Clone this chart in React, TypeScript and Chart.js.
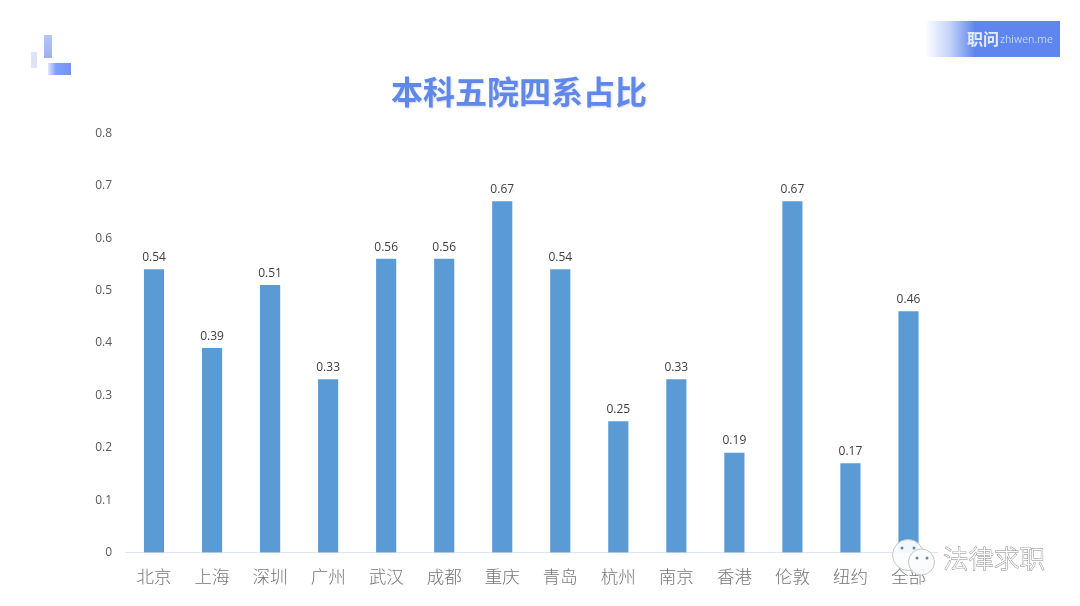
import React, { useEffect, useRef } from "react";
import { Chart, registerables } from "chart.js";

Chart.register(...registerables);

const categories = ["北京", "上海", "深圳", "广州", "武汉", "成都", "重庆", "青岛", "杭州", "南京", "香港", "伦敦", "纽约", "全部"];
const shares = [0.54, 0.39, 0.51, 0.33, 0.56, 0.56, 0.67, 0.54, 0.25, 0.33, 0.19, 0.67, 0.17, 0.46];
const yTicks = [0, 0.1, 0.2, 0.3, 0.4, 0.5, 0.6, 0.7, 0.8];
const titleText = "本科五院四系占比";
const watermarkText = "法律求职";

const decorBefore = {
  id: "decorBefore",
  beforeDraw(chart: any) {
    const c = chart.ctx;
    c.save();
    c.fillStyle = "#ffffff";
    c.fillRect(0, 0, chart.width, chart.height);
    // top-left mark
    c.fillStyle = "#dfe3f8";
    c.fillRect(31, 52, 6, 16);
    let g = c.createLinearGradient(0, 35, 0, 58);
    g.addColorStop(0, "#b3c6f7");
    g.addColorStop(1, "#9fb0ea");
    c.fillStyle = g;
    c.fillRect(44, 35, 8, 23);
    g = c.createLinearGradient(48, 0, 71, 0);
    g.addColorStop(0, "#dfe6fd");
    g.addColorStop(0.35, "#7f9dfb");
    g.addColorStop(1, "#7393f5");
    c.fillStyle = g;
    c.fillRect(48, 63, 23, 12);
    // top-right badge
    g = c.createLinearGradient(925, 0, 975, 0);
    g.addColorStop(0, "#ffffff");
    g.addColorStop(0.5, "#c3d2f8");
    g.addColorStop(1, "#5f86ee");
    c.fillStyle = g;
    c.fillRect(925, 21, 135, 36);
    c.textBaseline = "middle";
    c.textAlign = "left";
    c.fillStyle = "#e6edfd";
    c.font = "bold 16px 'Noto Sans CJK SC'";
    c.fillText("职问", 967, 39);
    c.fillStyle = "#c3d4fa";
    c.font = "10.5px 'Open Sans'";
    c.fillText("zhiwen.me", 1000, 40);
    // title
    c.textAlign = "center";
    c.font = "bold 32px 'Noto Sans CJK SC'";
    c.shadowColor = "rgba(90,110,170,0.25)";
    c.shadowBlur = 2;
    c.shadowOffsetX = 1;
    c.shadowOffsetY = 1;
    c.fillStyle = "#5f88ea";
    c.fillText(titleText, 519, 92);
    c.restore();
  },
};

const barLabels = {
  id: "barLabels",
  afterDatasetsDraw(chart: any) {
    const c = chart.ctx;
    const meta = chart.getDatasetMeta(0);
    c.save();
    c.font = "12px 'Open Sans'";
    c.fillStyle = "#404040";
    c.textAlign = "center";
    c.textBaseline = "bottom";
    meta.data.forEach((el: any, i: number) => {
      c.fillText(shares[i].toFixed(2), el.x, el.y - 6);
    });
    // watermark
    c.lineWidth = 1;
    c.strokeStyle = "#c4c8cc";
    c.fillStyle = "rgba(250,252,253,0.95)";
    c.beginPath();
    c.arc(908, 555, 15.5, 0, Math.PI * 2);
    c.fill();
    c.stroke();
    c.beginPath();
    c.arc(921.5, 562, 13, 0, Math.PI * 2);
    c.fill();
    c.stroke();
    c.fillStyle = "#6d8794";
    [[902, 548], [914, 548], [917, 558], [927, 558]].forEach(([x, y]) => {
      c.beginPath();
      c.arc(x, y, 1.5, 0, Math.PI * 2);
      c.fill();
    });
    c.font = "300 25.5px 'Noto Sans CJK SC'";
    c.textAlign = "left";
    c.textBaseline = "middle";
    c.fillStyle = "#ffffff";
    c.strokeStyle = "#85878a";
    c.lineWidth = 0.9;
    c.strokeText(watermarkText, 943, 558);
    c.fillText(watermarkText, 943, 558);
    c.restore();
  },
};

export default function App() {
  const ref = useRef<HTMLCanvasElement>(null);
  useEffect(() => {
    document.body.style.margin = "0";
    const chart = new Chart(ref.current!, {
      type: "bar",
      data: {
        labels: categories,
        datasets: [{ data: shares, backgroundColor: "#5b9bd5", barThickness: 19.5 }],
      },
      options: {
        animation: false,
        responsive: false,
        devicePixelRatio: 1,
        layout: { padding: { top: 133.5, right: 142.5, left: 0, bottom: 0 } },
        plugins: { legend: { display: false }, title: { display: false }, tooltip: { enabled: false } },
        scales: {
          x: {
            grid: { display: false },
            border: { color: "#dbe6f0", width: 1 },
            ticks: { color: "#757575", font: { family: "'Noto Sans CJK SC'", size: 17.5, weight: "300" }, padding: 5, maxRotation: 0, autoSkip: false },
            afterFit(s: any) { s.height = 53.5; },
          },
          y: {
            min: 0,
            max: 0.8,
            afterBuildTicks(s: any) { s.ticks = yTicks.map((value) => ({ value })); },
            grid: { display: false },
            border: { display: false },
            ticks: { color: "#595959", font: { family: "'Open Sans'", size: 12 }, padding: 5, callback: (v: any) => String(v) },
            afterFit(s: any) { s.width = 125; },
          },
        },
      },
      plugins: [decorBefore, barLabels],
    } as any);
    return () => chart.destroy();
  }, []);
  return <canvas ref={ref} width={1080} height={606} style={{ display: "block", width: 1080, height: 606 }} />;
}
